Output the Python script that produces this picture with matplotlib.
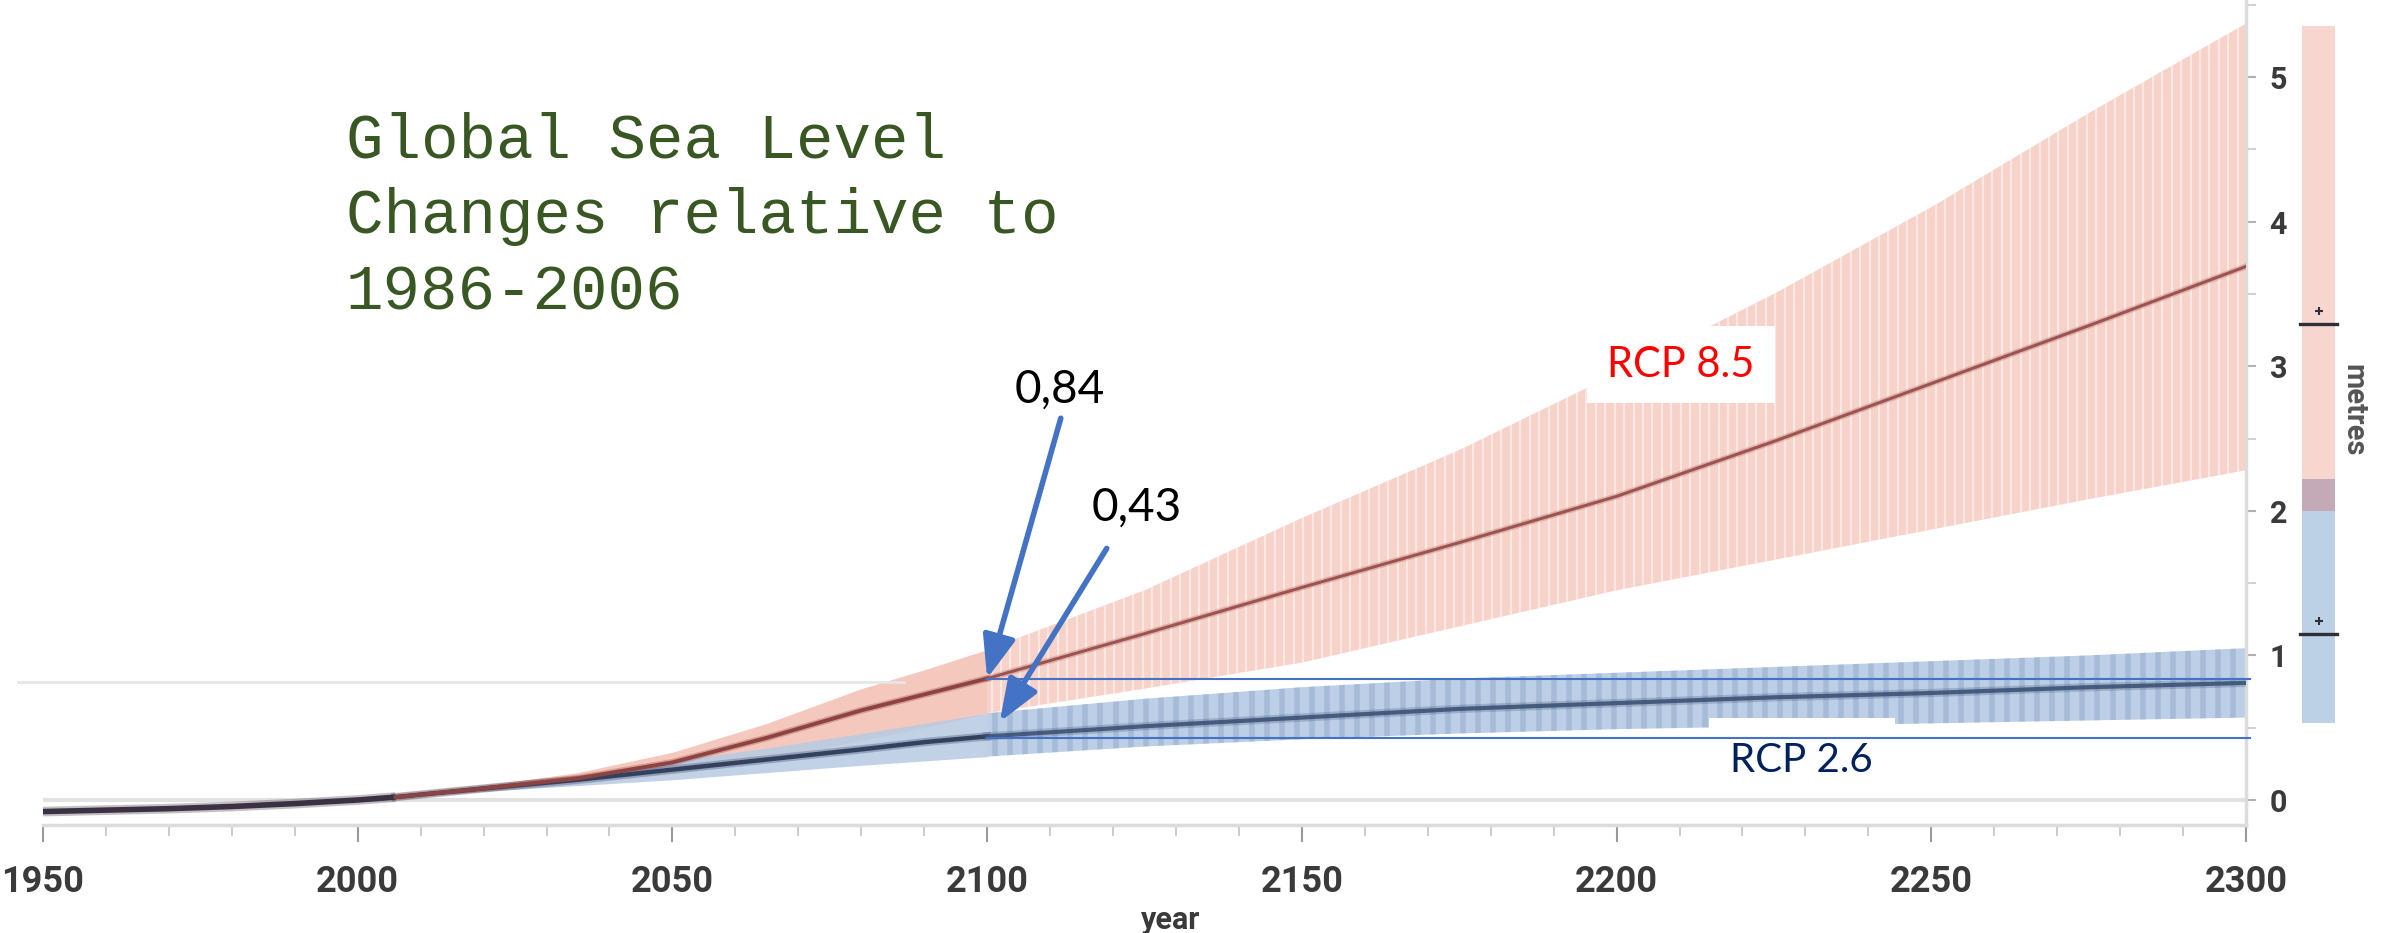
import matplotlib
matplotlib.use('Agg')
from matplotlib import pyplot as plt
from matplotlib.lines import Line2D
from matplotlib.patches import Rectangle
import numpy as np

# 观测段（相对 1986-2006 的海平面变化，单位：米）
hist_years = [1950, 1960, 1970, 1980, 1990, 2000, 2006]
hist_level = [-0.08, -0.07, -0.06, -0.045, -0.025, 0.0, 0.02]

# 21 世纪预估
proj_years = [2006, 2020, 2035, 2050, 2065, 2080, 2090, 2100]
rcp85_mid = [0.02, 0.08, 0.15, 0.26, 0.43, 0.62, 0.73, 0.84]
rcp85_lo = [0.02, 0.06, 0.11, 0.18, 0.29, 0.41, 0.50, 0.60]
rcp85_hi = [0.02, 0.10, 0.19, 0.33, 0.53, 0.77, 0.90, 1.04]
rcp26_mid = [0.02, 0.08, 0.14, 0.21, 0.28, 0.35, 0.40, 0.44]
rcp26_lo = [0.02, 0.06, 0.10, 0.14, 0.19, 0.24, 0.27, 0.30]
rcp26_hi = [0.02, 0.09, 0.17, 0.27, 0.36, 0.46, 0.53, 0.60]

# 2100-2300 长期预估
long_years = [2100, 2125, 2150, 2175, 2200, 2225, 2250, 2275, 2300]
rcp85_long_mid = [0.84, 1.15, 1.47, 1.78, 2.10, 2.48, 2.88, 3.28, 3.69]
rcp85_long_lo = [0.60, 0.77, 0.95, 1.20, 1.45, 1.66, 1.87, 2.08, 2.28]
rcp85_long_hi = [1.04, 1.45, 1.95, 2.42, 2.95, 3.50, 4.10, 4.75, 5.37]
rcp26_long_mid = [0.44, 0.51, 0.57, 0.63, 0.67, 0.71, 0.74, 0.78, 0.81]
rcp26_long_lo = [0.30, 0.37, 0.42, 0.46, 0.49, 0.51, 0.53, 0.55, 0.57]
rcp26_long_hi = [0.60, 0.70, 0.78, 0.84, 0.88, 0.92, 0.96, 1.00, 1.05]

# 右侧 2300 年区间条（低, 中位, 高）
bar_rcp85 = [2.00, 3.29, 5.35]
bar_rcp26 = [0.53, 1.15, 2.22]

# 2100 年标注
val_rcp85_2100 = 0.84
val_rcp26_2100 = 0.43

title_lines = ['Global Sea Level', 'Changes relative to', '1986-2006']

W, H = 2385, 933
AXFONT = 'Roboto'

fig = plt.figure(figsize=(W / 100, H / 100), dpi=100)
ax = fig.add_axes([43 / W, 1 - 825 / H, (2246 - 43) / W, 825 / H])
ax.set_xlim(1950, 2300)
ax.set_ylim(-25 / 144.6, 800 / 144.6)

# 坐标轴样式
for side in ['top', 'left']:
    ax.spines[side].set_visible(False)
for side in ['bottom', 'right']:
    ax.spines[side].set_color('#dcdcdc')
    ax.spines[side].set_linewidth(2.5)
ax.axhline(0, color='#e2e2e2', lw=3, zorder=0)

ax.yaxis.tick_right()
ax.set_yticks(range(0, 6))
ax.set_yticks(np.arange(0.5, 5.6, 1), minor=True)
ax.set_xticks(range(1950, 2301, 50))
ax.set_xticks(range(1950, 2301, 10), minor=True)
ax.tick_params(axis='x', which='major', length=12, width=1.5, color='#9a9a9a', pad=16,
               labelsize=26, labelcolor='#3a3a3a')
ax.tick_params(axis='x', which='minor', length=8, width=1.2, color='#c4c4c4')
ax.tick_params(axis='y', which='major', length=7, width=1.5, color='#b0b0b0', pad=10,
               labelsize=22, labelcolor='#3a3a3a')
ax.tick_params(axis='y', which='minor', length=7, width=1.2, color='#c8c8c8')
for lab in ax.get_xticklabels() + ax.get_yticklabels():
    lab.set_family(AXFONT)
    lab.set_fontweight('bold')

# 21 世纪不确定范围（平滑）
ax.fill_between(proj_years, rcp85_lo, rcp85_hi, color='#f3bfb2', alpha=0.85, lw=0, zorder=1)
ax.fill_between(proj_years, rcp26_lo, rcp26_hi, color='#b7cbe3', alpha=0.85, lw=0, zorder=2)

# 2100 之后的范围，叠加竖条纹
band85 = ax.fill_between(long_years, rcp85_long_lo, rcp85_long_hi, facecolor='#f7d2c9',
                         lw=0, zorder=1)
band26 = ax.fill_between(long_years, rcp26_long_lo, rcp26_long_hi, facecolor='#bccfe6',
                         lw=0, zorder=2)
stripes85 = ax.vlines(np.arange(2100.7, 2300, 1.5), -0.2, 6, colors='white',
                      lw=1.6, alpha=0.5, zorder=1.5)
stripes85.set_clip_path(band85.get_paths()[0], transform=ax.transData)
stripes26 = ax.vlines(np.arange(2101.2, 2300, 2.4), -0.2, 6, colors='#7f97bb',
                      lw=4, alpha=0.35, zorder=2.5)
stripes26.set_clip_path(band26.get_paths()[0], transform=ax.transData)

# 中位数曲线
ax.plot(hist_years, hist_level, color='#3b3142', lw=7, alpha=0.3, solid_capstyle='butt', zorder=3)
ax.plot(hist_years, hist_level, color='#3b3142', lw=4, solid_capstyle='butt', zorder=4)
ax.plot(proj_years, rcp26_mid, color='#2c3c5c', lw=6, alpha=0.3, zorder=3)
ax.plot(proj_years, rcp26_mid, color='#33415e', lw=3.2, zorder=4)
ax.plot(proj_years, rcp85_mid, color='#8a3f3c', lw=5, alpha=0.3, zorder=3)
ax.plot(proj_years, rcp85_mid, color='#8e4340', lw=2.8, zorder=4)
ax.plot(long_years, rcp85_long_mid, color='#9a4e4a', lw=4.5, alpha=0.25, zorder=4)
ax.plot(long_years, rcp85_long_mid, color='#9a4e4a', lw=2.2, alpha=0.95, zorder=4)
ax.plot(long_years, rcp26_long_mid, color='#3e5276', lw=6, alpha=0.25, zorder=4)
ax.plot(long_years, rcp26_long_mid, color='#3e5276', lw=3, alpha=0.9, zorder=4)

# 2100 年水平参考线
ax.plot([2100, 2300.6], [val_rcp85_2100] * 2, color='#4472c4', lw=1.5, zorder=7, clip_on=False)
ax.plot([2100, 2300.6], [val_rcp26_2100] * 2, color='#4472c4', lw=1.5, zorder=7, clip_on=False)

# 情景标签
ax.add_patch(Rectangle((2195.3, 2.745), 29.8, 0.533, facecolor='white', edgecolor='none', zorder=5))
ax.text(2210.2, 3.01, 'RCP 8.5', color='#ff0000', fontsize=30, family='Lato',
        ha='center', va='center', zorder=6)
ax.add_patch(Rectangle((2214.7, 0.035), 29.5, 0.532, facecolor='white', edgecolor='none', zorder=5))
ax.text(2229.3, 0.27, 'RCP 2.6', color='#002060', fontsize=29, family='Lato',
        ha='center', va='center', zorder=6)

# 箭头与数值
arrow = dict(arrowstyle='-|>,head_length=26,head_width=10', mutation_scale=1,
             lw=4, color='#4472c4', shrinkA=0, shrinkB=0)
ax.annotate('', xy=(2100, val_rcp85_2100), xytext=(2111.7, 2.64), arrowprops=arrow, zorder=8)
ax.annotate('', xy=(2102, 0.54), xytext=(2119.0, 1.74), arrowprops=arrow, zorder=8)
ax.text(2111.6, 2.84, f'{val_rcp85_2100:.2f}'.replace('.', ','), fontsize=33, family='Lato',
        ha='center', va='center', color='black', zorder=8)
ax.text(2123.8, 2.02, f'{val_rcp26_2100:.2f}'.replace('.', ','), fontsize=33, family='Lato',
        ha='center', va='center', color='black', zorder=8)

# 右侧 2300 年区间条
sx = fig.add_axes([2302 / W, 1 - 825 / H, 33 / W, 825 / H])
sx.set_xlim(0, 1)
sx.set_ylim(ax.get_ylim())
sx.axis('off')
sx.bar(0.5, bar_rcp85[2] - bar_rcp85[0], bottom=bar_rcp85[0], width=1, color='#f6d6ce')
sx.bar(0.5, bar_rcp26[2] - bar_rcp26[0], bottom=bar_rcp26[0], width=1, color='#bcd0e6')
sx.bar(0.5, bar_rcp26[2] - bar_rcp85[0], bottom=bar_rcp85[0], width=1, color='#c4a9b6')
for b in (bar_rcp85, bar_rcp26):
    sx.plot([-0.05, 1.05], [b[1], b[1]], color='#2f2f3c', lw=2.4, clip_on=False)
    sx.plot(0.5, b[1] + 0.09, marker='+', ms=6, mew=1.5, color='#2f2f3c')

fig.text(2353 / W, 1 - 410 / H, 'metres', rotation=270, ha='center', va='center',
         fontsize=21, fontweight='bold', color='#555555', family=AXFONT)
fig.text(1171 / W, 1 - 920 / H, 'year', ha='center', va='center',
         fontsize=22, fontweight='bold', color='#3a3a3a', family=AXFONT)

# 左上角淡灰分隔线
fig.add_artist(Line2D([18 / W, 904 / W], [1 - 682 / H] * 2, color='#e6e6e6', lw=2))

# 标题
for i, line in enumerate(title_lines):
    fig.text(346 / W, 1 - (157 + 76.5 * i) / H, line, fontsize=45, family='Liberation Mono',
             color='#385723', ha='left', va='baseline')

fig.savefig('out.png', dpi=100, facecolor='white')
